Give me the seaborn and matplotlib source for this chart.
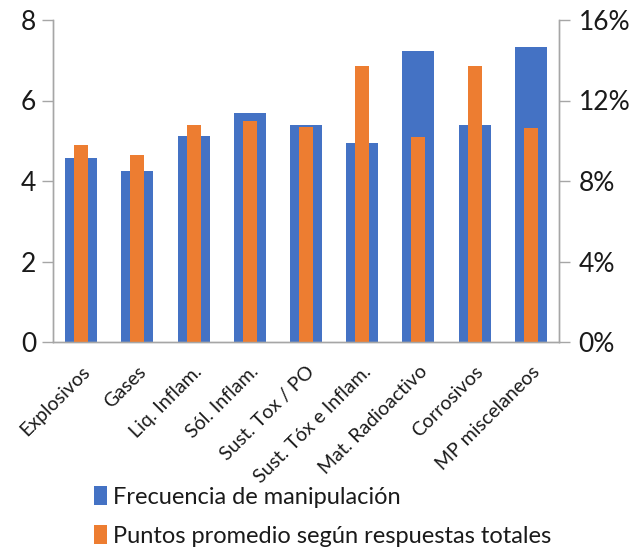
import matplotlib
matplotlib.use("Agg")
import matplotlib.pyplot as plt
import seaborn as sns
import pandas as pd
import numpy as np
from matplotlib.patches import Patch
from matplotlib.ticker import FixedLocator

categories = ["Explosivos", "Gases", "Liq. Inflam.", "Sól. Inflam.", "Sust. Tox / PO",
              "Sust. Tóx e Inflam.", "Mat. Radioactivo", "Corrosivos", "MP miscelaneos"]
frecuencia = [4.57, 4.24, 5.13, 5.68, 5.40, 4.95, 7.22, 5.40, 7.33]
puntos_pct = [9.80, 9.27, 10.80, 10.96, 10.70, 13.71, 10.17, 13.71, 10.63]
left_ticks = [0, 2, 4, 6, 8]
right_ticks = [0, 4, 8, 12, 16]
series_names = ["Frecuencia de manipulación", "Puntos promedio según respuestas totales"]

blue = "#4472C4"
orange = "#ED7D31"
gray = "#A6A6A6"
txt = "#1a1a1a"

sns.set_theme(style="white")
plt.rcParams["font.family"] = ["Lato", "DejaVu Sans"]

df = pd.DataFrame({"cat": categories, "frec": frecuencia, "pts": puntos_pct})

fig = plt.figure(figsize=(6.43, 5.55), dpi=100)
ax = fig.add_axes([53/643, 1 - 342/555, (559-53)/643, (342-20)/555])
sns.barplot(data=df, x="cat", y="frec", color=blue, saturation=1, width=0.57,
            linewidth=0, edgecolor="none", ax=ax)
ax2 = ax.twinx()
sns.barplot(data=df, x="cat", y="pts", color=orange, saturation=1, width=0.25,
            linewidth=0, edgecolor="none", ax=ax2)

n = len(categories)
for a in (ax, ax2):
    a.set_xlim(-0.5, n - 0.5)
    a.set_xlabel("")
    a.set_ylabel("")
    a.grid(False)
    for s in a.spines.values():
        s.set_color(gray)
        s.set_linewidth(1.0)
    a.spines["top"].set_visible(False)

ax.set_ylim(0, 8)
ax.set_yticks(left_ticks)
ax.set_yticklabels([str(t) for t in left_ticks], fontsize=19, color=txt)
ax2.set_ylim(0, 16)
ax2.set_yticks(right_ticks)
ax2.set_yticklabels([f"{t}%" for t in right_ticks], fontsize=19, color=txt)
ax.tick_params(axis="y", length=8, color=gray, width=1, pad=4)
ax2.tick_params(axis="y", length=8, color=gray, width=1, pad=6)

ax.set_xticks(np.arange(n))
ax.set_xticklabels(categories, rotation=45, ha="right", rotation_mode="anchor",
                   fontsize=14, color=txt)
ax.tick_params(axis="x", which="major", length=0, pad=15)
ax.xaxis.set_minor_locator(FixedLocator(np.arange(-0.5, n, 1.0)))
ax.tick_params(axis="x", which="minor", length=6, color=gray, width=1)
ax2.tick_params(axis="x", length=0)

handles = [Patch(facecolor=blue, edgecolor="none"), Patch(facecolor=orange, edgecolor="none")]
leg = fig.legend(handles, series_names, loc="upper left", bbox_to_anchor=(94/643, 1 - 486/555),
                 frameon=False, fontsize=17, handlelength=0.55, handleheight=0.85,
                 handletextpad=0.25, labelspacing=0.75, borderaxespad=0, borderpad=0)
for t in leg.get_texts():
    t.set_color(txt)

fig.savefig("out.png", dpi=100)
